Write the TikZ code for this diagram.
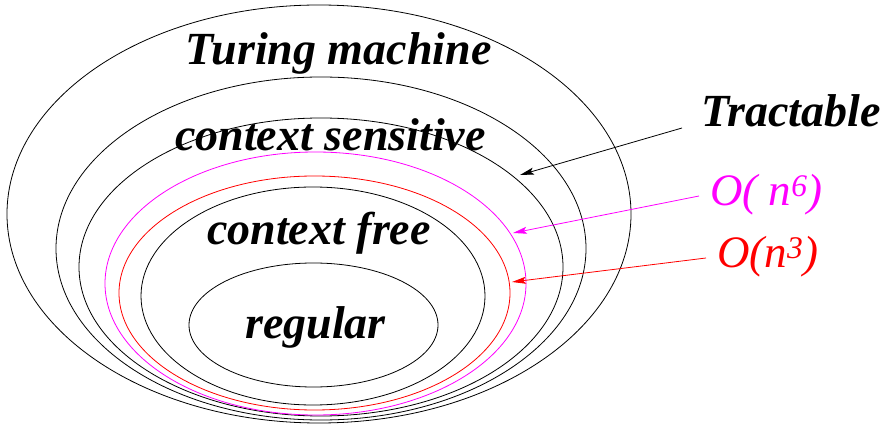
\documentclass[tikz,border=0pt]{standalone}
\usepackage{fontspec}
\setmainfont{Liberation Serif}
\usetikzlibrary{arrows.meta}
\definecolor{mag}{RGB}{255,0,255}
\tikzset{
  ring/.style={line width=0.8pt},
  lbl/.style={anchor=base west,inner sep=0pt,font=\fontsize{46}{50}\selectfont\bfseries\itshape},
  cplx/.style={anchor=base west,inner sep=0pt,font=\fontsize{45}{50}\selectfont\itshape},
  arr/.style={line width=0.8pt,-{Stealth[length=14pt,width=7pt,inset=3pt]}}
}
\begin{document}
\begin{tikzpicture}[x=1pt,y=-1pt]
\useasboundingbox (0,0) rectangle (888,427);
% ellipses
\draw[ring] (319,214) ellipse [x radius=312pt,y radius=209pt];
\draw[ring] (321,248.5) ellipse [x radius=265pt,y radius=171.5pt];
\draw[ring] (321,267) ellipse [x radius=242pt,y radius=149pt];
\draw[ring,mag] (315.5,283.5) ellipse [x radius=210.5pt,y radius=131.5pt];
\draw[ring,red] (314.5,293) ellipse [x radius=195.5pt,y radius=117pt];
\draw[ring] (313,296) ellipse [x radius=172pt,y radius=109pt];
\draw[ring] (313.5,325) ellipse [x radius=124.5pt,y radius=62pt];
% labels
\node[lbl] (tm) at (185,65) {Turing machine};
\node[lbl] (cs) at (175,151) {context sensitive};
\node[lbl] (cf) at (207,245) {context free};
\node[lbl] (rg) at (245,338) {regular};
\node[lbl] (tr) at (701,127) {Tractable};
\node[cplx,text=mag] (o6) at (710,206) {O( n\textsuperscript{6})};
\node[cplx,text=red] (o3) at (717,268) {O(n\textsuperscript{3})};
% arrow tips
\coordinate (ttr) at (520,175);
\coordinate (to6) at (513,233);
\coordinate (to3) at (512,282);
\draw[arr] ([xshift=-19pt,yshift=-1pt]tr.base west) -- (ttr);
\draw[arr,mag] ([xshift=-11pt,yshift=10pt]o6.base west) -- (to6);
\draw[arr,red] ([xshift=-11pt,yshift=10pt]o3.base west) -- (to3);
\end{tikzpicture}
\end{document}
